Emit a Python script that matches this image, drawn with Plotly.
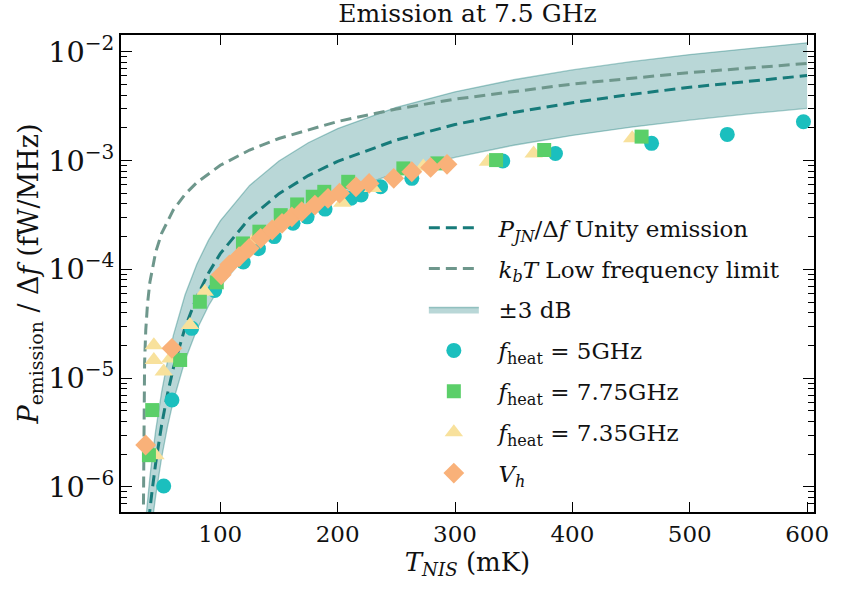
import plotly.graph_objects as go

# ---- theory curves ----
T_model = [35, 38, 40, 42, 45, 50, 55, 60, 70, 80, 90, 100, 125, 150, 175, 200,
           250, 300, 350, 400, 450, 500, 550, 600]
P_unity = [1.698e-7, 3.818e-7, 6.134e-7, 9.42e-7, 1.667e-6, 3.713e-6, 7.15e-6,
           1.235e-5, 2.920e-5, 5.583e-5, 9.272e-5, 1.396e-4, 2.956e-4, 4.958e-4,
           7.285e-4, 9.842e-4, 1.543e-3, 2.142e-3, 2.765e-3, 3.405e-3, 4.055e-3,
           4.713e-3, 5.377e-3, 6.045e-3]
P_upper = [3.396e-7, 7.636e-7, 1.2268e-6, 1.884e-6, 3.334e-6, 7.426e-6, 1.430e-5,
           2.470e-5, 5.840e-5, 1.1166e-4, 1.8544e-4, 2.792e-4, 5.912e-4, 9.916e-4,
           1.457e-3, 1.9684e-3, 3.086e-3, 4.284e-3, 5.530e-3, 6.810e-3, 8.110e-3,
           9.426e-3, 1.0754e-2, 1.209e-2]
P_lower = [8.49e-8, 1.909e-7, 3.067e-7, 4.71e-7, 8.335e-7, 1.8565e-6, 3.575e-6,
           6.175e-6, 1.460e-5, 2.7915e-5, 4.636e-5, 6.98e-5, 1.478e-4, 2.479e-4,
           3.6425e-4, 4.921e-4, 7.715e-4, 1.071e-3, 1.3825e-3, 1.7025e-3, 2.0275e-3,
           2.3565e-3, 2.6885e-3, 3.0225e-3]

T_kT = [34.55, 34.7, 35, 35.5, 36.5, 38, 40, 45, 50, 60, 70, 80, 100, 125, 150,
        200, 250, 300, 400, 500, 600]
P_kT = [6.9e-7, 2.76e-6, 6.9e-6, 1.38e-5, 2.76e-5, 4.83e-5, 7.60e-5, 1.45e-4,
        2.14e-4, 3.52e-4, 4.90e-4, 6.28e-4, 9.05e-4, 1.250e-3, 1.595e-3, 2.286e-3,
        2.976e-3, 3.667e-3, 5.048e-3, 6.429e-3, 7.810e-3]

# ---- measured data ----
T_5GHz = [51.8, 58.8, 75.6, 95.2, 119.6, 132.5, 146, 162, 174, 189.3, 211.4, 220,
          236.6, 263.2, 340.7, 385.6, 467.5, 532, 596.9]
P_5GHz = [1.02e-6, 6.3e-6, 2.87e-5, 6.4e-5, 1.17e-4, 1.55e-4, 2.0e-4, 2.65e-4,
          3.04e-4, 3.58e-4, 4.5e-4, 4.82e-4, 5.74e-4, 6.86e-4, 9.9e-4, 1.16e-3,
          1.44e-3, 1.74e-3, 2.27e-3]

T_775GHz = [39.2, 42.0, 65.8, 82.6, 97.0, 119.3, 133.3, 151.5, 165.5, 178.8, 188.6,
            209, 256, 285, 335, 376, 459]
P_775GHz = [1.96e-6, 5.09e-6, 1.47e-5, 5.04e-5, 7.6e-5, 1.73e-4, 2.22e-4, 3.15e-4,
            3.95e-4, 4.65e-4, 5.16e-4, 6.38e-4, 8.47e-4, 9.42e-4, 1.01e-3, 1.25e-3,
            1.66e-3]

T_735GHz = [43.4, 43.4, 44.8, 51.8, 57.4, 74.2, 86.8, 110, 128, 150, 183, 204, 230,
            273, 328, 367, 451]
P_735GHz = [2.01e-5, 1.47e-5, 1.96e-6, 1.15e-5, 1.52e-5, 3.08e-5, 6.22e-5, 1.18e-4,
            1.85e-4, 2.85e-4, 4.5e-4, 4.1e-4, 5.6e-4, 8.8e-4, 9.75e-4, 1.16e-3, 1.60e-3]

T_Vh = [36.4, 58.8, 100.8, 107.8, 116, 124.6, 134.4, 144.2, 152.6, 161, 169.4,
        180.6, 191.8, 201.6, 215.6, 226.8, 247.8, 263.2, 279.2, 293.2]
P_Vh = [2.43e-6, 1.88e-5, 8.91e-5, 1.10e-4, 1.306e-4, 1.56e-4, 1.93e-4, 2.30e-4,
        2.65e-4, 3.04e-4, 3.39e-4, 3.90e-4, 4.50e-4, 5.01e-4, 5.74e-4, 6.17e-4,
        6.86e-4, 7.89e-4, 8.65e-4, 9.23e-4]

TEAL = "#177b7a"
GRAYGREEN = "#6e978c"
SERIF = "'DejaVu Serif', serif"
PAD = "\u00a0\u00a0"

fig = go.Figure()

# band
fig.add_trace(go.Scatter(x=T_model, y=P_lower, mode="lines",
                         line=dict(color="rgba(23,123,122,0.38)", width=1.3),
                         showlegend=False, legendgroup="band", hoverinfo="skip"))
fig.add_trace(go.Scatter(x=T_model, y=P_upper, mode="lines", fill="tonexty",
                         fillcolor="rgba(23,123,122,0.30)",
                         line=dict(color="rgba(23,123,122,0.38)", width=1.3),
                         name=PAD + "±3 dB", legendgroup="band", legendrank=3))
# lines
fig.add_trace(go.Scatter(x=T_model, y=P_unity, mode="lines",
                         line=dict(color=TEAL, width=3, dash="11px,6px"),
                         name=PAD + "<i>P</i><sub><i>JN</i></sub>/Δ<i>f</i> Unity emission",
                         legendgroup="unity", legendrank=1))
fig.add_trace(go.Scatter(x=T_kT, y=P_kT, mode="lines",
                         line=dict(color=GRAYGREEN, width=3, dash="11px,6px"),
                         name=PAD + "<i>k</i><sub><i>b</i></sub><i>T</i> Low frequency limit",
                         legendgroup="kt", legendrank=2))
# data
fig.add_trace(go.Scatter(x=T_5GHz, y=P_5GHz, mode="markers",
                         marker=dict(symbol="circle", size=15, color="#1bbfbe"),
                         name=PAD + "<i>f</i><sub>heat</sub> = 5GHz",
                         legendgroup="c", legendrank=4))
fig.add_trace(go.Scatter(x=T_735GHz, y=P_735GHz, mode="markers",
                         marker=dict(symbol="triangle-up", size=16, color="#f8e19c"),
                         name=PAD + "<i>f</i><sub>heat</sub> = 7.35GHz",
                         legendgroup="t", legendrank=6))
fig.add_trace(go.Scatter(x=T_775GHz, y=P_775GHz, mode="markers",
                         marker=dict(symbol="square", size=14, color="#5bcf69"),
                         name=PAD + "<i>f</i><sub>heat</sub> = 7.75GHz",
                         legendgroup="s", legendrank=5))
fig.add_trace(go.Scatter(x=T_Vh, y=P_Vh, mode="markers",
                         marker=dict(symbol="diamond", size=16, color="#f9b179"),
                         name=PAD + "<i>V</i><sub><i>h</i></sub>",
                         legendgroup="d", legendrank=7))

fig.update_layout(
    width=841, height=590,
    margin=dict(l=121, r=17, t=35, b=78),
    paper_bgcolor="white", plot_bgcolor="white",
    font=dict(family=SERIF, color="#111"),
    title=dict(text="Emission at 7.5 GHz", x=0.5, xref="paper", xanchor="center",
               y=0.978, yref="container", yanchor="middle",
               font=dict(family=SERIF, size=25, color="#111")),
    legend=dict(x=0.437, y=0.641, xanchor="left", yanchor="top",
                bgcolor="rgba(0,0,0,0)", traceorder="grouped", tracegroupgap=8,
                itemwidth=50,
                font=dict(family=SERIF, size=23, color="#111")),
    showlegend=True,
)

fig.update_xaxes(
    type="linear", range=[15.4, 605.9],
    tickmode="array", tickvals=[100, 200, 300, 400, 500, 600],
    ticks="inside", ticklen=10, tickwidth=1.3, tickcolor="black",
    showline=True, linewidth=2, linecolor="black", mirror="ticks",
    showgrid=False, zeroline=False,
    tickfont=dict(family=SERIF, size=23, color="#111"),
    title=dict(text="<i>T</i><sub><i>NIS</i></sub> (mK)",
               font=dict(family=SERIF, size=26, color="#111"), standoff=6),
)
fig.update_yaxes(
    type="log", range=[-6.23, -1.846],
    dtick=1, exponentformat="power", showexponent="all",
    ticks="inside", ticklen=11, tickwidth=1.3, tickcolor="black",
    minor=dict(ticks="inside", ticklen=6, tickwidth=1, tickcolor="black",
               dtick="D1", showgrid=False),
    showline=True, linewidth=2, linecolor="black", mirror="ticks",
    showgrid=False, zeroline=False,
    tickfont=dict(family=SERIF, size=23, color="#111"),
    title=dict(text="<i>P</i><sub>emission</sub> / Δ<i>f</i> (fW/MHz)",
               font=dict(family=SERIF, size=27, color="#111"), standoff=2),
)

fig.write_html("out.html")
